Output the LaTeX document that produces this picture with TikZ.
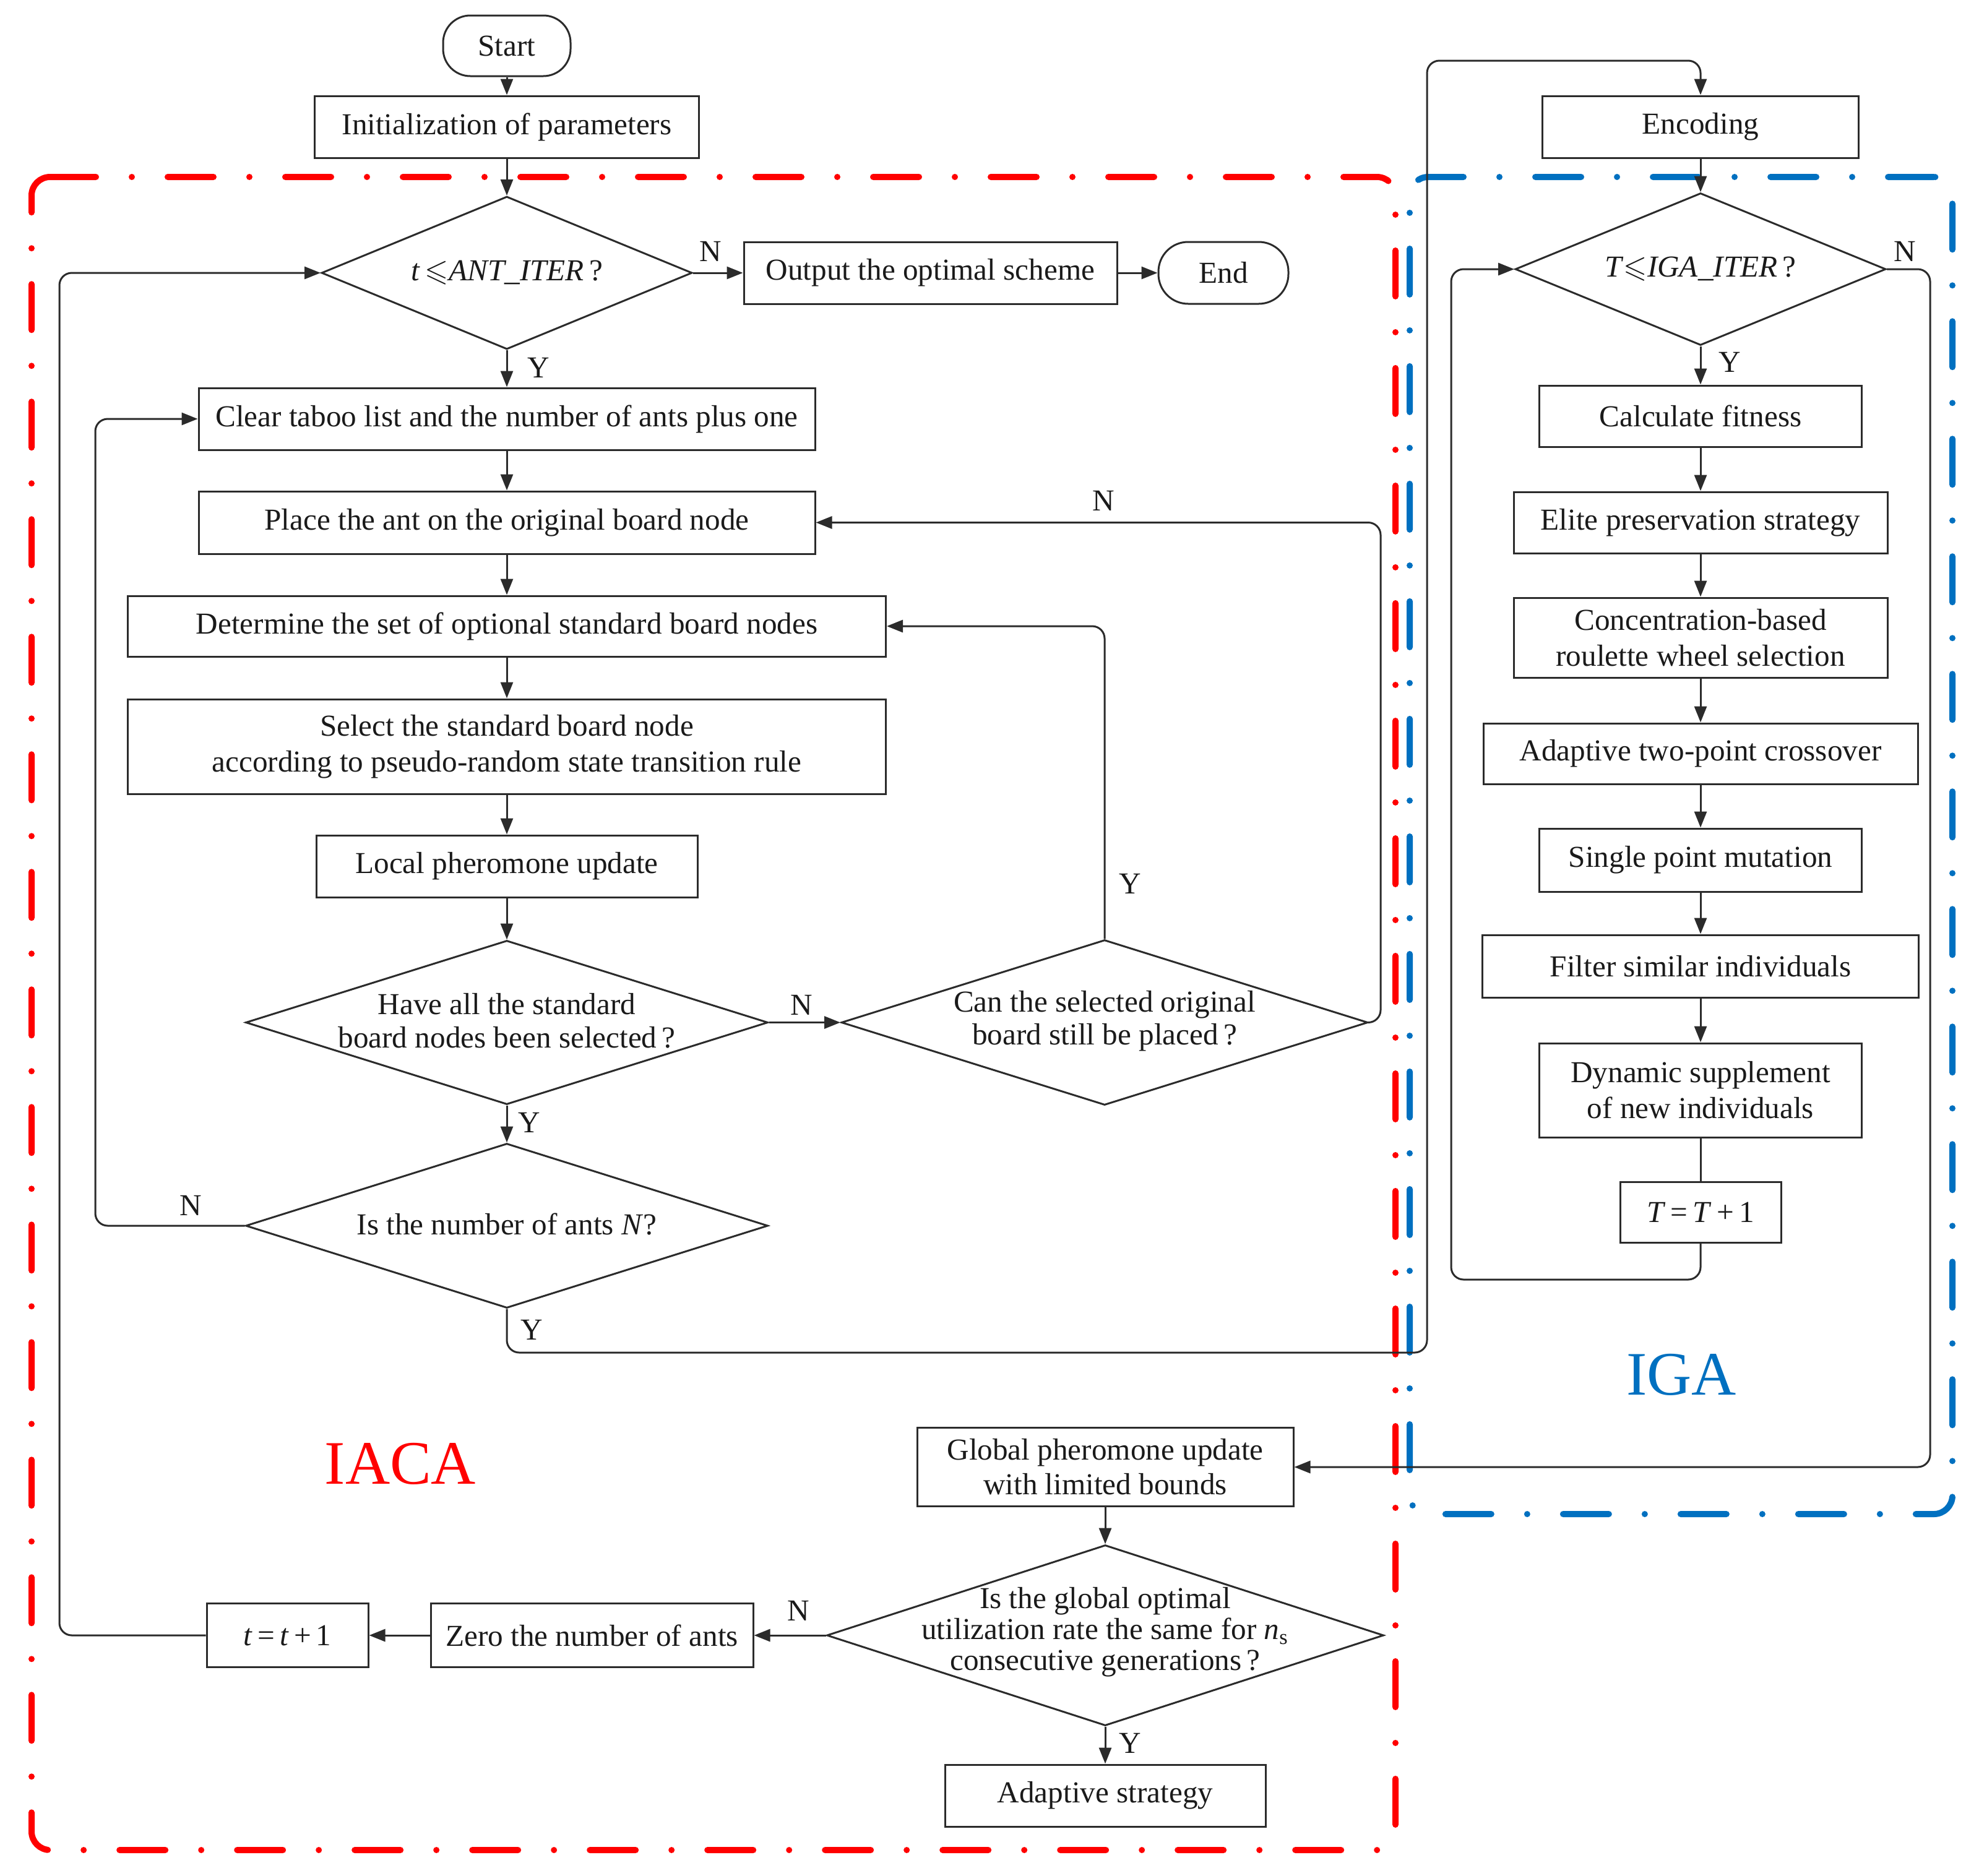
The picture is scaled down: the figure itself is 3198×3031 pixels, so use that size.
\documentclass[tikz,border=0pt]{standalone}
\usepackage{fontspec}
\setmainfont{Liberation Serif}
\usepackage{amssymb}
\usetikzlibrary{arrows.meta,shapes.geometric}
\definecolor{lnc}{HTML}{2B2B2B}
\definecolor{txc}{HTML}{1A1A1A}
\definecolor{igablue}{HTML}{0070C0}
\definecolor{iacared}{HTML}{FF0000}
\begin{document}
\begin{tikzpicture}[x=0.25pt,y=-0.25pt,
  every node/.style={font=\fontsize{12.3}{14.5}\selectfont, text=txc},
  box/.style={draw=lnc, line width=0.75pt, rectangle, inner sep=0pt, align=center},
  term/.style={box, rounded corners=11pt},
  dia/.style={draw=lnc, line width=0.75pt, diamond, inner sep=0pt, aspect=2.4},
  dtxt/.style={align=center, inner sep=0pt, font=\fontsize{12.3}{13.4}\selectfont},
  conn/.style={draw=lnc, line width=0.75pt, rounded corners=5pt},
  arr/.style={conn, -{Triangle[length=6.5pt,width=5pt]}},
  lab/.style={inner sep=0pt},
  frame/.style={line width=2.5pt, line cap=round, rounded corners=7.5pt, dash pattern=on 18.5pt off 14.5pt on 0pt off 14.5pt},
  big/.style={inner sep=0pt, font=\fontsize{25}{30}\selectfont},
]
\useasboundingbox (0,0) rectangle (3198,3031);

% frames
\draw[frame, iacared] (51,286) -- (2255,286) -- (2255,2990) -- (51,2990) -- cycle;
\draw[frame, igablue] (3155,286) -- (2278,286) -- (2278,2447) -- (3155,2447) -- cycle;
\node[big, text=iacared] (iaca) at (647,2366) {IACA};
\node[big, text=igablue] (iga) at (2717,2222) {IGA};

% IACA column
\node[term, minimum width=51.5pt, minimum height=24.5pt] (start) at (819,74) {Start};
\node[box, minimum width=155.25pt, minimum height=25pt] (init) at (819,205) {Initialization of parameters};
\node[dia, minimum width=149.75pt, minimum height=61.75pt] (d1) at (819,441) {};
\node[dtxt] (d1t) at (d1) {\textit{t}\,$\leqslant$\textit{ANT\_ITER}\,?};
\node[box, minimum width=150.75pt, minimum height=25pt] (outn) at (1503.5,441) {Output the optimal scheme};
\node[term, minimum width=52.5pt, minimum height=25pt, rounded corners=12pt] (endn) at (1977,441) {End};
\node[box, minimum width=249pt, minimum height=25pt] (clear) at (819,677) {Clear taboo list and the number of ants plus one};
\node[box, minimum width=249pt, minimum height=25.25pt] (place) at (819,844.5) {Place the ant on the original board node};
\node[box, minimum width=306.25pt, minimum height=24.5pt] (determ) at (819,1012) {Determine the set of optional standard board nodes};
\node[box, minimum width=306.25pt, minimum height=38.25pt] (selectn) at (819,1206.5) {Select the standard board node\\according to pseudo-random state transition rule};
\node[box, minimum width=154pt, minimum height=25pt] (localn) at (819,1400) {Local pheromone update};
\node[dia, minimum width=211pt, minimum height=66.25pt] (d2) at (819,1652.5) {};
\node[dtxt] (d2t) at (819,1650) {Have all the standard\\board nodes been selected\,?};
\node[dia, minimum width=212.75pt, minimum height=66.75pt] (d3) at (1785,1652.5) {};
\node[dtxt] (d3t) at (1785,1650) {Can the selected original\\board still be placed\,?};
\node[dia, minimum width=211pt, minimum height=66.5pt] (d4) at (819,1981) {};
\node[dtxt] (d4t) at (819,1978) {Is the number of ants \textit{N}?};
\node[box, minimum width=152pt, minimum height=31.75pt, font=\fontsize{12.3}{14}\selectfont] (globaln) at (1786,2371) {Global pheromone update\\with limited bounds};
\node[dia, minimum width=225pt, minimum height=73pt] (d5) at (1786,2643) {};
\node[dtxt, font=\fontsize{12.3}{12.5}\selectfont] (d5t) at (1786,2638) {Is the global optimal\\utilization rate the same for \textit{n}\textsubscript{s}\\consecutive generations\,?};
\node[box, minimum width=129.5pt, minimum height=25pt] (adapt) at (1786,2902) {Adaptive strategy};
\node[box, minimum width=130.25pt, minimum height=25.75pt] (zero) at (956.5,2643) {Zero the number of ants};
\node[box, minimum width=65.25pt, minimum height=25.75pt] (tinc) at (464.5,2643) {\textit{t}\,=\,\textit{t}\,+\,1};

% IGA column
\node[box, minimum width=127.75pt, minimum height=25pt] (enc) at (2748,205) {Encoding};
\node[dia, minimum width=149.75pt, minimum height=61.5pt] (d6) at (2748,435) {};
\node[dtxt] (d6t) at (d6) {\textit{T}$\leqslant$\textit{IGA\_ITER}\,?};
\node[box, minimum width=130.25pt, minimum height=24.75pt] (calc) at (2748,672.5) {Calculate fitness};
\node[box, minimum width=151pt, minimum height=24.75pt] (elite) at (2748,844.5) {Elite preservation strategy};
\node[box, minimum width=151pt, minimum height=32.25pt] (conc) at (2748,1030.5) {Concentration-based\\roulette wheel selection};
\node[box, minimum width=175.5pt, minimum height=24.5pt] (cross) at (2748,1218) {Adaptive two-point crossover};
\node[box, minimum width=130.25pt, minimum height=25.5pt] (single) at (2748,1390) {Single point mutation};
\node[box, minimum width=176.25pt, minimum height=25.25pt] (filter) at (2748,1561.5) {Filter similar individuals};
\node[box, minimum width=130.25pt, minimum height=38pt] (dyn) at (2748,1762) {Dynamic supplement\\of new individuals};
\node[box, minimum width=65pt, minimum height=24.5pt] (Tinc) at (2748,1959) {\textit{T}\,=\,\textit{T}\,+\,1};

% labels
\node[lab] (lN1) at (1148,406) {N};
\node[lab] (lY1) at (870,594) {Y};
\node[lab] (lN2) at (1295,1624) {N};
\node[lab] (lY2) at (855,1814) {Y};
\node[lab] (lY3) at (1826,1428) {Y};
\node[lab] (lN3) at (1783,809) {N};
\node[lab] (lN4) at (308,1948) {N};
\node[lab] (lY4) at (859,2149) {Y};
\node[lab] (lY5) at (2795,585) {Y};
\node[lab] (lN5) at (3078,406) {N};
\node[lab] (lN6) at (1290,2603) {N};
\node[lab] (lY6) at (1826,2817) {Y};

% coordinates for routed connectors
\coordinate (c1) at (2231,1652.5);
\coordinate (c2) at (154,1981);
\coordinate (c3) at (2306,2186);
\coordinate (c4) at (2306,98);
\coordinate (c5) at (2345,2068);
\coordinate (c6) at (3119,2371);
\coordinate (c7) at (96,2643);

% connectors IACA
\draw[arr] (start) -- (init);
\draw[arr] (init) -- (d1);
\draw[arr] (d1.east) -- (outn.west);
\draw[arr] (outn.east) -- (endn.west);
\draw[arr] (d1.south) -- (clear.north);
\draw[arr] (clear) -- (place);
\draw[arr] (place) -- (determ);
\draw[arr] (determ) -- (selectn);
\draw[arr] (selectn) -- (localn);
\draw[arr] (localn) -- (d2);
\draw[arr] (d2.east) -- (d3.west);
\draw[arr] (d2.south) -- (d4.north);
\draw[arr] (d3.north) |- (determ.east);
\draw[arr] (d3.east) -- (c1) |- (place.east);
\draw[arr] (d4.west) -- (c2) |- (clear.west);
\draw[arr] (d4.south) |- (c3) -- (c4) -| (enc.north);
\draw[arr] (globaln) -- (d5);
\draw[arr] (d5.west) -- (zero.east);
\draw[arr] (zero.west) -- (tinc.east);
\draw[arr] (tinc.west) -- (c7) |- (d1.west);
\draw[arr] (d5.south) -- (adapt.north);

% connectors IGA
\draw[arr] (enc) -- (d6);
\draw[arr] (d6.south) -- (calc.north);
\draw[arr] (calc) -- (elite);
\draw[arr] (elite) -- (conc);
\draw[arr] (conc) -- (cross);
\draw[arr] (cross) -- (single);
\draw[arr] (single) -- (filter);
\draw[arr] (filter) -- (dyn);
\draw[conn] (dyn) -- (Tinc);
\draw[arr] (Tinc.south) |- (c5) |- (d6.west);
\draw[arr] (d6.east) -| (c6) -- (globaln.east);
\end{tikzpicture}
\end{document}
